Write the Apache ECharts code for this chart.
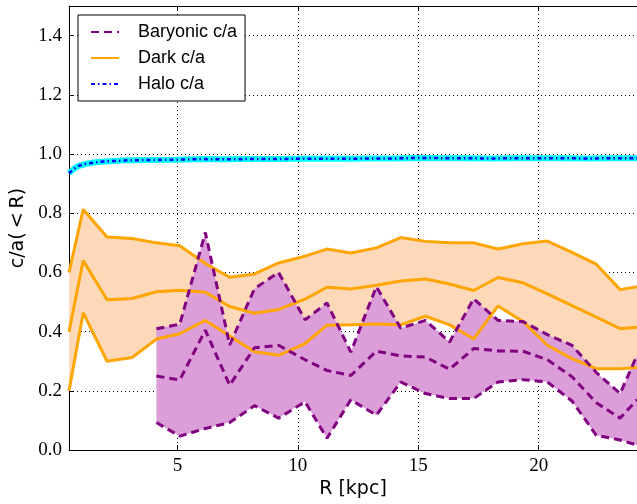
<!DOCTYPE html>
<html>
<head>
<meta charset="utf-8">
<script src="https://cdn.jsdelivr.net/npm/echarts@6/dist/echarts.min.js"></script>
<style>html,body{margin:0;padding:0;background:#fff}#c{width:637px;height:504px}</style>
</head>
<body>
<div id="c"></div>
<script>
// Radii of the profile bins (kpc)
const R = [0.5, 1.09, 2.08, 3.12, 4.13, 5.1, 6.16, 7.17, 8.2, 9.2, 10.3, 11.21, 12.2, 13.26, 14.27, 15.3, 16.3, 17.3, 18.31, 19.35, 20.36, 21.38, 22.39, 23.38, 24.08];
// Dark matter c/a: lower, median, upper
const darkLow = [0.20, 0.464, 0.30, 0.313, 0.375, 0.393, 0.438, 0.385, 0.332, 0.32, 0.36, 0.422, 0.423, 0.426, 0.423, 0.452, 0.423, 0.376, 0.487, 0.434, 0.354, 0.309, 0.275, 0.275, 0.279];
const darkMed = [0.40, 0.64, 0.508, 0.512, 0.535, 0.54, 0.533, 0.485, 0.462, 0.475, 0.51, 0.55, 0.544, 0.557, 0.571, 0.578, 0.561, 0.539, 0.583, 0.565, 0.528, 0.488, 0.449, 0.41, 0.415];
const darkHigh = [0.60, 0.813, 0.72, 0.715, 0.70, 0.69, 0.63, 0.584, 0.595, 0.632, 0.655, 0.679, 0.666, 0.683, 0.718, 0.705, 0.70, 0.70, 0.679, 0.697, 0.706, 0.668, 0.628, 0.542, 0.552];
// Baryonic c/a (from R index 4 onwards)
const barR = R.slice(4);
const barLow = [0.093, 0.047, 0.073, 0.093, 0.15, 0.108, 0.163, 0.04, 0.17, 0.118, 0.23, 0.191, 0.174, 0.174, 0.23, 0.238, 0.23, 0.166, 0.05, 0.034, 0.017];
const barMed = [0.25, 0.237, 0.405, 0.219, 0.346, 0.354, 0.305, 0.269, 0.252, 0.334, 0.318, 0.314, 0.273, 0.343, 0.335, 0.334, 0.305, 0.248, 0.16, 0.108, 0.17];
const barHigh = [0.41, 0.425, 0.735, 0.355, 0.545, 0.60, 0.44, 0.497, 0.331, 0.552, 0.412, 0.438, 0.365, 0.511, 0.438, 0.434, 0.39, 0.354, 0.262, 0.191, 0.32];
// Halo c/a
const haloR = [0.5, 0.7, 0.9, 1.2, 1.6, 2, 2.5, 3, 4, 5, 6, 7, 8, 9, 10, 11, 12, 13, 14, 15, 16, 17, 18, 19, 20, 21, 22, 23, 24.08];
const haloC = [0.935, 0.950, 0.960, 0.967, 0.972, 0.975, 0.977, 0.979, 0.980, 0.981, 0.983, 0.982, 0.983, 0.983, 0.984, 0.984, 0.984, 0.985, 0.985, 0.987, 0.986, 0.986, 0.985, 0.986, 0.986, 0.986, 0.985, 0.986, 0.986];
// Tick values
const xTicks = [5, 10, 15, 20];

const zip = (xs, ys) => xs.map((x, i) => [x, ys[i]]);

function band(name, xs, lo, hi, color) {
  return {
    name: name, type: 'custom', silent: true, clip: true,
    data: [[xs[0], lo[0]]],
    encode: { x: 0, y: 1 },
    renderItem: function (params, api) {
      const pts = [];
      for (let i = 0; i < xs.length; i++) pts.push(api.coord([xs[i], hi[i]]));
      for (let i = xs.length - 1; i >= 0; i--) pts.push(api.coord([xs[i], lo[i]]));
      return { type: 'polygon', shape: { points: pts }, style: { fill: color } };
    }
  };
}
function line(name, xs, ys, color, width, type) {
  return {
    name: name, type: 'line', data: zip(xs, ys), symbol: 'none', showSymbol: false,
    silent: true, lineStyle: { color: color, width: width, type: type }, itemStyle: { color: color }
  };
}

const ORANGE = '#ffa500', PURPLE = '#800080';
const serif = 'Liberation Serif';

const chart = echarts.init(document.getElementById('c'));
chart.setOption({
  animation: false,
  backgroundColor: '#fff',
  grid: { left: 69, right: 0, top: 6, bottom: 52 },
  legend: {
    data: ['Baryonic c/a', 'Dark c/a', 'Halo c/a'],
    orient: 'vertical', left: 78, top: 15,
    itemWidth: 28, itemHeight: 14, itemGap: 8,
    padding: [8, 8, 8, 12],
    borderColor: '#000', borderWidth: 1, borderRadius: 0, backgroundColor: '#fff',
    selectedMode: false,
    itemStyle: { opacity: 0 },
    textStyle: { fontFamily: 'Liberation Sans', fontSize: 18, color: '#000', padding: [0, 0, 0, 14] }
  },
  xAxis: [{
    type: 'value', min: 0.5, max: 24.08, position: 'bottom',
    name: 'R [kpc]', nameLocation: 'middle', nameGap: 24,
    nameTextStyle: { fontFamily: 'DejaVu Sans', fontSize: 19, color: '#000' },
    axisLine: { show: true, onZero: false, lineStyle: { color: '#000', width: 1 } },
    axisTick: { show: true, inside: true, length: 5, customValues: xTicks, lineStyle: { color: '#000' } },
    axisLabel: { customValues: xTicks, margin: 6, fontFamily: serif, fontSize: 19, color: '#000' },
    splitLine: { show: true, lineStyle: { type: [1, 3], color: '#000', width: 1 } }
  }, {
    type: 'value', min: 0.5, max: 24.08, position: 'top',
    axisLine: { show: true, onZero: false, lineStyle: { color: '#000', width: 1 } },
    axisTick: { show: true, inside: true, length: 5, customValues: xTicks, lineStyle: { color: '#000' } },
    axisLabel: { show: false },
    splitLine: { show: false }
  }],
  yAxis: {
    type: 'value', min: 0, max: 1.5, interval: 0.2,
    name: 'c/a({lt|<}R)', nameLocation: 'middle', nameGap: 38, nameRotate: 90,
    nameTextStyle: { fontFamily: 'DejaVu Sans', fontSize: 19, color: '#000',
      rich: { lt: { fontFamily: 'DejaVu Sans', fontSize: 19, color: '#000', padding: [0, 4, 0, 4] } } },
    axisLine: { show: true, onZero: false, lineStyle: { color: '#000', width: 1 } },
    axisTick: { show: true, inside: true, length: 5, lineStyle: { color: '#000' } },
    axisLabel: { margin: 7, fontFamily: serif, fontSize: 19, color: '#000', showMaxLabel: false,
      formatter: v => v.toFixed(1) },
    splitLine: { show: true, lineStyle: { type: [1, 3], color: '#000', width: 1 } }
  },
  series: [
    band('darkBand', R, darkLow, darkHigh, '#fdd9b9'),
    band('barBand', barR, barLow, barHigh, '#db9ed9'),
    line('haloBand', haloR, haloC, '#00ffff', 6, 'solid'),
    line('Dark c/a', R, darkMed, ORANGE, 3, 'solid'),
    line('darkLow', R, darkLow, ORANGE, 3, 'solid'),
    line('darkHigh', R, darkHigh, ORANGE, 3, 'solid'),
    line('Baryonic c/a', barR, barMed, PURPLE, 3, [8, 5]),
    line('barLow', barR, barLow, PURPLE, 3, [8, 5]),
    line('barHigh', barR, barHigh, PURPLE, 3, [8, 5]),
    line('Halo c/a', haloR, haloC, '#0000ff', 2.5, [4, 3, 1.5, 3])
  ]
});
</script>
</body>
</html>
